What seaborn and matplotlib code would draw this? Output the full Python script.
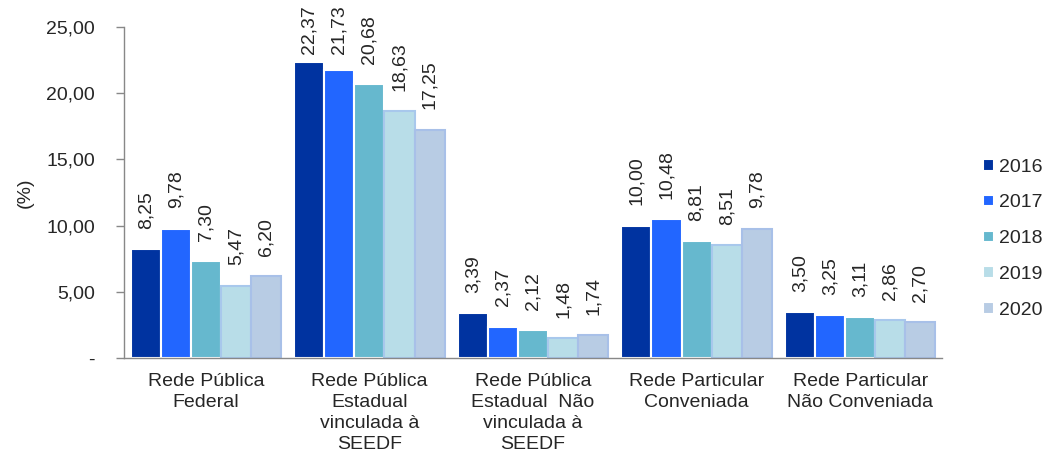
import numpy as np
import pandas as pd
import matplotlib
matplotlib.use('Agg')
import matplotlib.pyplot as plt
import seaborn as sns

# categories (x axis) and years (hue)
categorias = ['Rede Pública\nFederal',
              'Rede Pública\nEstadual\nvinculada à\nSEEDF',
              'Rede Pública\nEstadual  Não\nvinculada à\nSEEDF',
              'Rede Particular\nConveniada',
              'Rede Particular\nNão Conveniada']
anos = ['2016', '2017', '2018', '2019', '2020']

v2016 = [8.25, 22.37, 3.39, 10.00, 3.50]
v2017 = [9.78, 21.73, 2.37, 10.48, 3.25]
v2018 = [7.30, 20.68, 2.12, 8.81, 3.11]
v2019 = [5.47, 18.63, 1.48, 8.51, 2.86]
v2020 = [6.20, 17.25, 1.74, 9.78, 2.70]

y_ticks = [0, 5, 10, 15, 20, 25]
y_ticklabels = ['-', '5,00', '10,00', '15,00', '20,00', '25,00']

cores = ['#0033A0', '#2266FF', '#66B8CE', '#B8DDE8', '#B8CCE4']
bordas = ['white', 'white', 'white', '#A8C8EC', '#A8C0E8']

#%%
valores = [v2016, v2017, v2018, v2019, v2020]
df = pd.DataFrame({
    'categoria': np.repeat(categorias, len(anos)),
    'ano': anos * len(categorias),
    'valor': [valores[j][i] for i in range(len(categorias)) for j in range(len(anos))],
})

sns.set_style('white')
plt.rcParams['font.family'] = ['Liberation Sans', 'DejaVu Sans']
texto = '#262626'
fs = 14

fig = plt.figure(figsize=(10.45, 4.54), dpi=100)
ax = fig.add_axes([0.1187, 0.2115, 0.7827, 0.729])

sns.barplot(data=df, x='categoria', y='valor', hue='ano', order=categorias,
            hue_order=anos, palette=cores, width=0.92, saturation=1,
            linewidth=1.5, ax=ax)

# edge colors per year + value labels
rotulos = []
for k, cont in enumerate(ax.containers):
    for p in cont.patches:
        p.set_edgecolor(bordas[k])
    rotulos += ax.bar_label(cont, labels=[f'{v:.2f}'.replace('.', ',') for v in valores[k]],
                            rotation=90, padding=14.5, fontsize=fs, color=texto)

ax.set_ylim(0, 25)
ax.set_xlim(-0.5, len(categorias) - 0.5)
ax.set_yticks(y_ticks)
ax.set_yticklabels(y_ticklabels, fontsize=fs, color=texto)
ax.set_xticks(range(len(categorias)))
ax.set_xticklabels(categorias, fontsize=fs, color=texto, linespacing=1.3)
ax.set_xticks(np.arange(-0.5, len(categorias)), minor=True)
ax.tick_params(axis='x', which='major', length=0, pad=11)
ax.tick_params(axis='x', which='minor', length=6, color='#888888', width=1)
ax.tick_params(axis='y', length=6, color='#888888', width=1, left=True, pad=15)
ax.set_xlabel('')
ax.set_ylabel('(%)', fontsize=fs, color=texto)
ax.yaxis.set_label_coords(-0.11, 0.5)

for s in ['top', 'right']:
    ax.spines[s].set_visible(False)
for s in ['left', 'bottom']:
    ax.spines[s].set_color('#888888')
    ax.spines[s].set_linewidth(1)

ax.legend(title=None, frameon=False, fontsize=fs, loc='center left',
          bbox_to_anchor=(1.05, 0.36), borderpad=0, borderaxespad=0,
          handlelength=0.55, handleheight=0.55, handletextpad=0.3,
          labelspacing=0.97, labelcolor=texto)

# keep tall value labels inside the figure (pushed down like the original)
fig.canvas.draw()
r = fig.canvas.get_renderer()
H = fig.bbox.height
for t in rotulos:
    bb = t.get_window_extent(r)
    excesso = bb.y1 - (H - 5)
    if excesso > 0:
        dx, dy = t.xyann
        t.xyann = (dx, dy - excesso * 72 / fig.dpi)

fig.savefig('out.png', dpi=100)
